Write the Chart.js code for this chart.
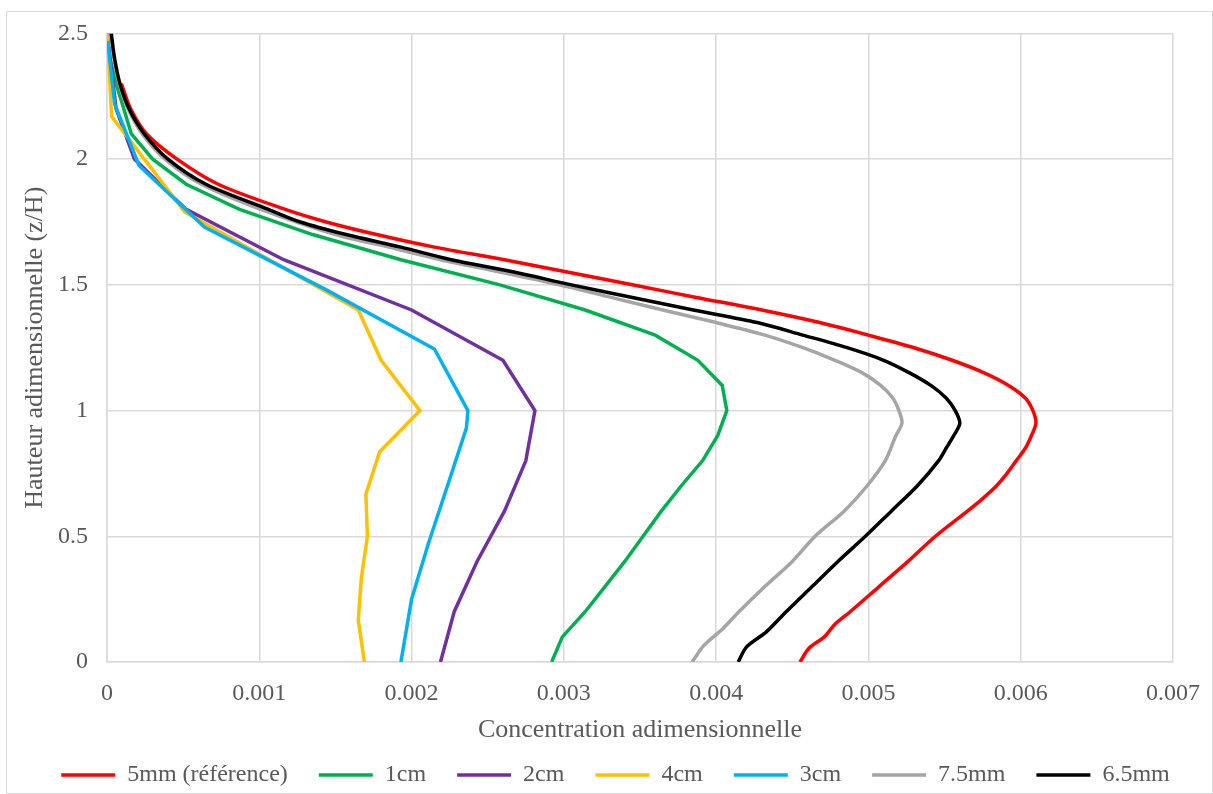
<!DOCTYPE html>
<html lang="fr">
<head>
<meta charset="utf-8">
<title>Profils de concentration</title>
<script src="https://cdn.jsdelivr.net/npm/chart.js@4.4.1/dist/chart.umd.min.js"></script>
<style>
  html, body { margin: 0; padding: 0; background: #fff; }
  body { width: 1213px; height: 794px; position: relative; overflow: hidden; }
  #cadre { position: absolute; left: 6px; top: 11px; width: 1207px; height: 783px; box-sizing: border-box; border: 1px solid #d9d9d9; }
  #zone { position: absolute; left: 0; top: 0; width: 1213px; height: 794px; }
</style>
</head>
<body>
<div id="cadre"></div>
<div id="zone"><canvas id="graphe"></canvas></div>
<script>
// ====== données ======
// z/H (hauteur) et concentration pour chaque diamètre

const h5mm = [2.3, 2.2, 2.1, 2.0, 1.9, 1.8, 1.75, 1.7, 1.65, 1.6, 1.55, 1.5, 1.45, 1.4, 1.35, 1.3, 1.25, 1.2, 1.15, 1.1, 1.05, 1.0, 0.95, 0.9, 0.85, 0.8, 0.75, 0.7, 0.65, 0.6, 0.5, 0.4, 0.3, 0.2, 0.15, 0.1, 0.055, 0];
const c5mm = [0.000094, 0.000155, 0.00026, 0.00046, 0.00073, 0.00117, 0.00144, 0.00177, 0.00215, 0.00261, 0.00303, 0.00345, 0.00387, 0.0043, 0.00468, 0.005, 0.0053, 0.00555, 0.00576, 0.00592, 0.00603, 0.00608, 0.0061, 0.00607, 0.00603, 0.00597, 0.00591, 0.00584, 0.00575, 0.00565, 0.00544, 0.00526, 0.00507, 0.00488, 0.00478, 0.00471, 0.00461, 0.00455];

const h1cm = [2.5, 2.4, 2.3, 2.2, 2.1, 2.0, 1.9, 1.8, 1.7, 1.6, 1.5, 1.4, 1.3, 1.2, 1.1, 1.0, 0.9, 0.8, 0.7, 0.6, 0.5, 0.4, 0.3, 0.2, 0.1, 0];
const c1cm = [0.000005, 0.00002, 0.00006, 0.00011, 0.00016, 0.0003, 0.00052, 0.00087, 0.00135, 0.00193, 0.00258, 0.00314, 0.0036, 0.00388, 0.00404, 0.00407, 0.00401, 0.00391, 0.00377, 0.00364, 0.00352, 0.0034, 0.00327, 0.00314, 0.00299, 0.00292];

const h2cm = [2.5, 2.4, 2.2, 2.0, 1.8, 1.6, 1.4, 1.2, 1.0, 0.8, 0.6, 0.4, 0.2, 0];
const c2cm = [0.000005, 0.00002, 0.00006, 0.00018, 0.00052, 0.00116, 0.002, 0.0026, 0.00281, 0.00275, 0.00261, 0.00243, 0.00228, 0.00219];

const h4cm = [2.5, 2.17, 1.79, 1.4, 1.2, 1.0, 0.835, 0.667, 0.5, 0.333, 0.167, 0];
const c4cm = [0.000002, 0.00003, 0.00051, 0.00165, 0.0018, 0.002055, 0.00179, 0.0017, 0.00171, 0.00167, 0.00165, 0.00169];

const h3cm = [2.47, 2.22, 1.975, 1.73, 1.48, 1.245, 1.0, 0.93, 0.69, 0.47, 0.25, 0];
const c3cm = [0.000005, 0.00005, 0.00021, 0.00064, 0.00144, 0.00215, 0.00237, 0.00236, 0.00223, 0.00211, 0.002, 0.00193];

const h7_5mm = [2.5, 2.4, 2.3, 2.2, 2.1, 2.0, 1.9, 1.8, 1.7, 1.65, 1.6, 1.55, 1.5, 1.45, 1.4, 1.35, 1.3, 1.25, 1.2, 1.15, 1.1, 1.05, 1.0, 0.95, 0.9, 0.8, 0.7, 0.6, 0.5, 0.4, 0.3, 0.2, 0.13, 0.066, 0];
const c7_5mm = [0.00002, 0.000045, 0.00008, 0.000138, 0.000232, 0.00038, 0.00062, 0.00101, 0.0015, 0.00185, 0.00219, 0.00259, 0.00297, 0.00331, 0.00365, 0.004, 0.00432, 0.00457, 0.00478, 0.00496, 0.00508, 0.00516, 0.0052, 0.00522, 0.00518, 0.00511, 0.00499, 0.00484, 0.00465, 0.0045, 0.00432, 0.00415, 0.00404, 0.00392, 0.003842];

const h6_5mm = [2.5, 2.4, 2.3, 2.2, 2.1, 2.0, 1.9, 1.8, 1.75, 1.7, 1.65, 1.6, 1.55, 1.5, 1.45, 1.4, 1.35, 1.3, 1.25, 1.2, 1.15, 1.1, 1.05, 1.0, 0.95, 0.9, 0.85, 0.8, 0.7, 0.6, 0.5, 0.4, 0.3, 0.2, 0.12, 0.06, 0];
const c6_5mm = [0.000028, 0.00005, 0.000085, 0.000145, 0.000245, 0.0004, 0.00065, 0.00106, 0.00127, 0.00157, 0.00193, 0.00226, 0.00268, 0.00305, 0.00345, 0.00385, 0.00427, 0.00457, 0.00486, 0.0051, 0.00527, 0.00541, 0.00551, 0.00557, 0.0056, 0.00556, 0.00551, 0.00546, 0.00532, 0.00515, 0.00498, 0.0048, 0.00463, 0.00446, 0.00433, 0.0042, 0.004145];

const xTicksMax = 0.007;
const yTicksMax = 2.5;

// séries : libellé, couleur, données, lissage
const SERIES = [
  { label: '5mm (référence)', color: '#FF0000', h: h5mm, c: c5mm, lisse: true },
  { label: '1cm', color: '#00B050', h: h1cm, c: c1cm, lisse: false },
  { label: '2cm', color: '#7030A0', h: h2cm, c: c2cm, lisse: false },
  { label: '4cm', color: '#FFC000', h: h4cm, c: c4cm, lisse: false },
  { label: '3cm', color: '#00B0F0', h: h3cm, c: c3cm, lisse: false },
  { label: '7.5mm', color: '#A5A5A5', h: h7_5mm, c: c7_5mm, lisse: true },
  { label: '6.5mm', color: '#000000', h: h6_5mm, c: c6_5mm, lisse: true }
];

const FONT = "'Liberation Serif', 'Times New Roman', serif";
const GRIS_TEXTE = '#595959';
const GRIS_GRILLE = '#d9d9d9';

function points(h, c) { return h.map((y, i) => ({ x: c[i], y })); }

const datasets = SERIES.map((s, i) => ({
  label: s.label,
  data: points(s.h, s.c),
  borderColor: s.color,
  backgroundColor: s.color,
  borderWidth: 3.5,
  pointRadius: 0,
  showLine: true,
  tension: s.lisse ? 0.3 : 0,
  // excel dessine la dernière série au-dessus
  order: SERIES.length - i
}));

new Chart(document.getElementById('graphe'), {
  type: 'scatter',
  data: { datasets },
  options: {
    responsive: true,
    maintainAspectRatio: false,
    animation: false,
    devicePixelRatio: 1,
    layout: { padding: { left: 18, right: 0, top: 32, bottom: 0 } },
    plugins: {
      tooltip: { enabled: false },
      legend: {
        position: 'bottom',
        maxHeight: 62,
        labels: {
          usePointStyle: true,
          pointStyle: 'line',
          pointStyleWidth: 54,
          padding: 31,
          color: GRIS_TEXTE,
          font: { family: FONT, size: 24 },
          sort: (a, b) => a.datasetIndex - b.datasetIndex
        }
      }
    },
    scales: {
      x: {
        type: 'linear',
        min: 0,
        max: xTicksMax,
        border: { color: GRIS_GRILLE, width: 1.5 },
        grid: { color: GRIS_GRILLE, lineWidth: 1.5, drawTicks: false },
        ticks: {
          stepSize: 0.001,
          padding: 17,
          color: GRIS_TEXTE,
          font: { family: FONT, size: 24 },
          callback: v => v === 0 ? '0' : v.toFixed(3)
        },
        title: {
          display: true,
          text: 'Concentration adimensionnelle',
          color: GRIS_TEXTE,
          font: { family: FONT, size: 26 },
          padding: { top: 0, bottom: -14 }
        },
        afterFit: scale => {
          scale.height = 70;
          scale.paddingRight = 40; // marge à droite du graphe
        }
      },
      y: {
        type: 'linear',
        min: 0,
        max: yTicksMax,
        border: { color: GRIS_GRILLE, width: 1.5 },
        grid: { color: GRIS_GRILLE, lineWidth: 1.5, drawTicks: false },
        ticks: {
          stepSize: 0.5,
          padding: 19,
          color: GRIS_TEXTE,
          font: { family: FONT, size: 24 },
          callback: v => String(Number(v.toFixed(1)))
        },
        title: {
          display: true,
          text: 'Hauteur adimensionnelle (z/H)',
          color: GRIS_TEXTE,
          font: { family: FONT, size: 26 },
          padding: { top: 2, bottom: 0 }
        },
        afterFit: scale => { scale.width = 89; }
      }
    }
  }
});
</script>
</body>
</html>
